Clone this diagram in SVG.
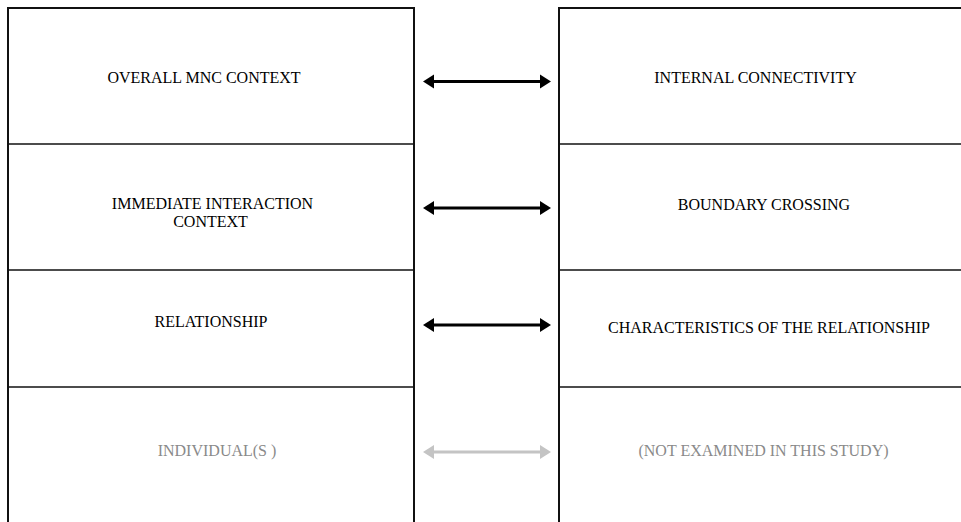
<svg xmlns="http://www.w3.org/2000/svg" width="961" height="522" viewBox="0 0 961 522">
  <style>
    .frame { fill: #ffffff; stroke: #111111; stroke-width: 2; }
    .divider { stroke: #111111; stroke-width: 1.3; }
    .label { font-family: "Liberation Serif", "Times New Roman", serif; font-size: 16px; fill: #000000; text-anchor: middle; }
    .muted { fill: #8a8a8a; }
    .link { stroke: #000000; stroke-width: 3; fill: none; marker-start: url(#headDark); marker-end: url(#headDark); }
    .link-muted { stroke: #c4c4c4; stroke-width: 3; fill: none; marker-start: url(#headLight); marker-end: url(#headLight); }
  </style>
  <defs>
    <!-- Heads sit beyond the line ends, base on the end point -->
    <marker id="headDark" markerUnits="userSpaceOnUse" markerWidth="12" markerHeight="16" refX="0" refY="8" orient="auto-start-reverse">
      <path d="M0,1 L11,8 L0,15 Z" fill="#000000"/>
    </marker>
    <marker id="headLight" markerUnits="userSpaceOnUse" markerWidth="12" markerHeight="16" refX="0" refY="8" orient="auto-start-reverse">
      <path d="M0,1 L11,8 L0,15 Z" fill="#c4c4c4"/>
    </marker>
  </defs>

  <rect width="961" height="522" fill="#ffffff"/>

  <!-- Left column: levels of context -->
  <g id="left-column">
    <rect class="frame" x="8" y="8" width="406" height="530"/>
    <line class="divider" x1="8" y1="144" x2="414" y2="144"/>
    <line class="divider" x1="8" y1="270" x2="414" y2="270"/>
    <line class="divider" x1="8" y1="387" x2="414" y2="387"/>
  </g>
  <g id="node-overall-mnc-context">
    <text class="label" x="204" y="83">OVERALL MNC CONTEXT</text>
  </g>
  <g id="node-immediate-interaction-context">
    <text class="label" x="212.5" y="209">IMMEDIATE INTERACTION</text>
    <text class="label" x="210.5" y="227">CONTEXT</text>
  </g>
  <g id="node-relationship">
    <text class="label" x="211" y="327">RELATIONSHIP</text>
  </g>
  <g id="node-individuals">
    <text class="label muted" x="217" y="456">INDIVIDUAL(S )</text>
  </g>

  <!-- Right column: corresponding dimensions -->
  <g id="right-column">
    <rect class="frame" x="559" y="8" width="420" height="530"/>
    <line class="divider" x1="559" y1="144" x2="961" y2="144"/>
    <line class="divider" x1="559" y1="270" x2="961" y2="270"/>
    <line class="divider" x1="559" y1="387" x2="961" y2="387"/>
  </g>
  <g id="node-internal-connectivity">
    <text class="label" x="755.5" y="83">INTERNAL CONNECTIVITY</text>
  </g>
  <g id="node-boundary-crossing">
    <text class="label" x="764" y="210">BOUNDARY CROSSING</text>
  </g>
  <g id="node-characteristics">
    <text class="label" x="769" y="333">CHARACTERISTICS OF THE RELATIONSHIP</text>
  </g>
  <g id="node-not-examined">
    <text class="label muted" x="763.5" y="456">(NOT EXAMINED IN THIS STUDY)</text>
  </g>

  <!-- Two-way links between levels -->
  <g id="connectors">
    <line class="link" x1="434" y1="81.5" x2="540" y2="81.5"/>
    <line class="link" x1="434" y1="208" x2="540" y2="208"/>
    <line class="link" x1="434" y1="325" x2="540" y2="325"/>
    <line class="link-muted" x1="434" y1="452" x2="540" y2="452"/>
  </g>
</svg>
